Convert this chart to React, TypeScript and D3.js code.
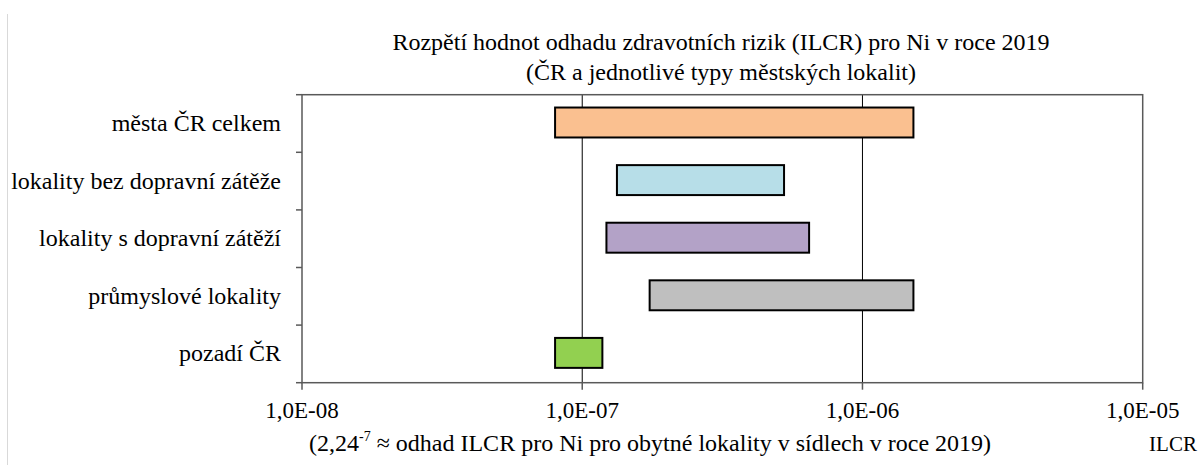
import React from 'react';
import * as d3 from 'd3';

// rows, top to bottom
const categories = [
    'města ČR celkem',
    'lokality bez dopravní zátěže',
    'lokality s dopravní zátěží',
    'průmyslové lokality',
    'pozadí ČR',
];
const minValues = [8.0e-8, 1.33e-7, 1.22e-7, 1.74e-7, 8.0e-8];
const maxValues = [1.52e-6, 5.25e-7, 6.45e-7, 1.52e-6, 1.18e-7];
const barColors = ['#FAC090', '#B7DEE8', '#B3A2C7', '#BFBFBF', '#92D050'];
const tickValues = [1e-8, 1e-7, 1e-6, 1e-5];
const tickLabels = ['1,0E-08', '1,0E-07', '1,0E-06', '1,0E-05'];
const titleLines = [
    'Rozpětí hodnot odhadu zdravotních rizik (ILCR) pro Ni v roce 2019',
    '(ČR a jednotlivé typy městských lokalit)',
];

const serif = { fontFamily: '"Tinos", "Liberation Serif", "Times New Roman", "FreeSerif", serif' };

const width = 1200;
const height = 465;
const left = 302;
const right = 1142.7;
const top = 94.7;
const bottom = 382.7;

const App = () => {
    const xScale = d3.scaleLog().domain([1e-8, 1e-5]).range([left, right]);
    const yScale = d3.scaleBand<string>()
        .domain(categories)
        .range([top, bottom])
        .paddingInner(0.48)
        .paddingOuter(0.24);
    const step = yScale.step();
    const rowEdges = d3.range(categories.length + 1).map(i => top + i * step);

    return (
        <svg width={width} height={height} style={{ position: 'absolute', left: 0, top: 0 }}>
            {/* outer frame edge */}
            <line x1={7.5} x2={7.5} y1={14} y2={height} stroke="#d9d9d9" />

            {titleLines.map((t, i) => (
                <text key={t} x={721} y={50 + i * 30} textAnchor="middle" fontSize={24} style={serif}>
                    {t}
                </text>
            ))}

            {/* gridlines */}
            {tickValues.slice(1, -1).map(v => (
                <line key={v} x1={xScale(v)} x2={xScale(v)} y1={top} y2={bottom} stroke="#000" strokeWidth={1} />
            ))}

            {/* plot border */}
            <rect x={left} y={top} width={right - left} height={bottom - top}
                fill="none" stroke="#595959" strokeWidth={1.5} />

            {/* y ticks at row boundaries */}
            {rowEdges.map(y => (
                <line key={y} x1={left - 6} x2={left} y1={y} y2={y} stroke="#595959" strokeWidth={1.5} />
            ))}

            {/* x ticks and labels */}
            {tickValues.map((v, i) => (
                <g key={v} transform={`translate(${xScale(v)},${bottom})`}>
                    <line y2={7} stroke="#595959" strokeWidth={1.5} />
                    <text y={35} textAnchor="middle" fontSize={23} style={serif}>
                        {tickLabels[i]}
                    </text>
                </g>
            ))}

            {/* category labels */}
            {categories.map(c => (
                <text key={c} x={281} y={(yScale(c) as number) + yScale.bandwidth() / 2 - 1}
                    dy="0.35em" textAnchor="end" fontSize={24} style={serif}>
                    {c}
                </text>
            ))}

            {/* range bars */}
            {categories.map((c, i) => (
                <rect key={c}
                    x={xScale(minValues[i])}
                    y={(yScale(c) as number) - 1}
                    width={xScale(maxValues[i]) - xScale(minValues[i])}
                    height={yScale.bandwidth()}
                    fill={barColors[i]} stroke="#000" strokeWidth={2} />
            ))}

            {/* footnote */}
            <text x={650} y={451} textAnchor="middle" fontSize={24} style={serif}>
                <tspan>(2,24</tspan>
                <tspan dy={-10} fontSize={14}>-7</tspan>
                <tspan dy={10}> ≈ odhad ILCR pro Ni pro obytné lokality v sídlech v roce 2019)</tspan>
            </text>
            <text x={1173} y={451} textAnchor="middle" fontSize={21} style={serif}>ILCR</text>
        </svg>
    );
};

export default App;
